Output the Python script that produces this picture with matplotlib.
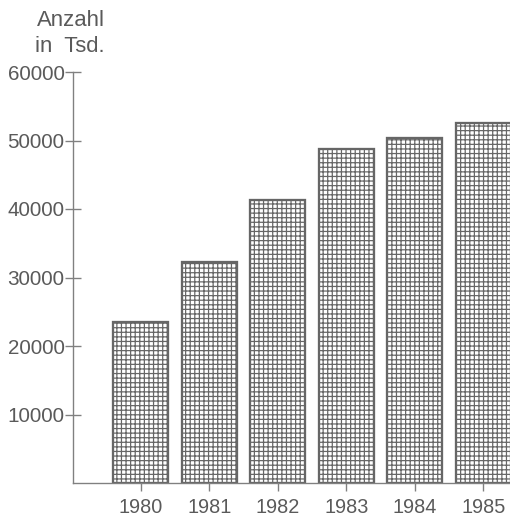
import matplotlib
matplotlib.use("Agg")
import matplotlib.pyplot as plt

years = ["1980", "1981", "1982", "1983", "1984", "1985"]
counts = [23500, 32300, 41300, 48800, 50400, 52600]
yticks = [10000, 20000, 30000, 40000, 50000, 60000]

DPI = 110
plt.rcParams["font.family"] = ["Liberation Sans", "DejaVu Sans"]
plt.rcParams["hatch.linewidth"] = 0.8
plt.rcParams["hatch.color"] = "#707070"

TXT = "#5a5a5a"
fig = plt.figure(figsize=(510 / DPI, 518 / DPI), dpi=DPI)
# axes box: left spine at x=73px, baseline at y=483px, top (60000) at y=72px
ax = fig.add_axes([73 / 510, (518 - 483) / 518, (510 - 73) / 510, (483 - 72) / 518])

x = range(len(years))
ax.bar(x, counts, width=0.8, facecolor="white", edgecolor="#666666",
       hatch="++++", linewidth=1.5)

ax.set_xlim(-0.99, 5.39)
ax.set_ylim(0, 60000)
ax.set_yticks(yticks)
ax.set_yticklabels([str(v) for v in yticks])
ax.set_xticks(list(x))
ax.set_xticklabels(years)

for s in ("top", "right"):
    ax.spines[s].set_visible(False)
for s in ("left", "bottom"):
    ax.spines[s].set_color("#808080")
    ax.spines[s].set_linewidth(0.9)

ax.tick_params(axis="y", direction="inout", length=11, width=0.9, color="#808080",
               labelcolor=TXT, labelsize=13.5, pad=0)
ax.tick_params(axis="x", direction="out", length=5, width=0.9, color="#808080",
               labelcolor=TXT, labelsize=13, pad=5)

fig.text(37 / 510, 1 - 20 / 518, "Anzahl", color=TXT, fontsize=14.5, va="center")
fig.text(35 / 510, 1 - 46 / 518, "in  Tsd.", color=TXT, fontsize=14.5, va="center")

fig.savefig("out.png", dpi=DPI)
